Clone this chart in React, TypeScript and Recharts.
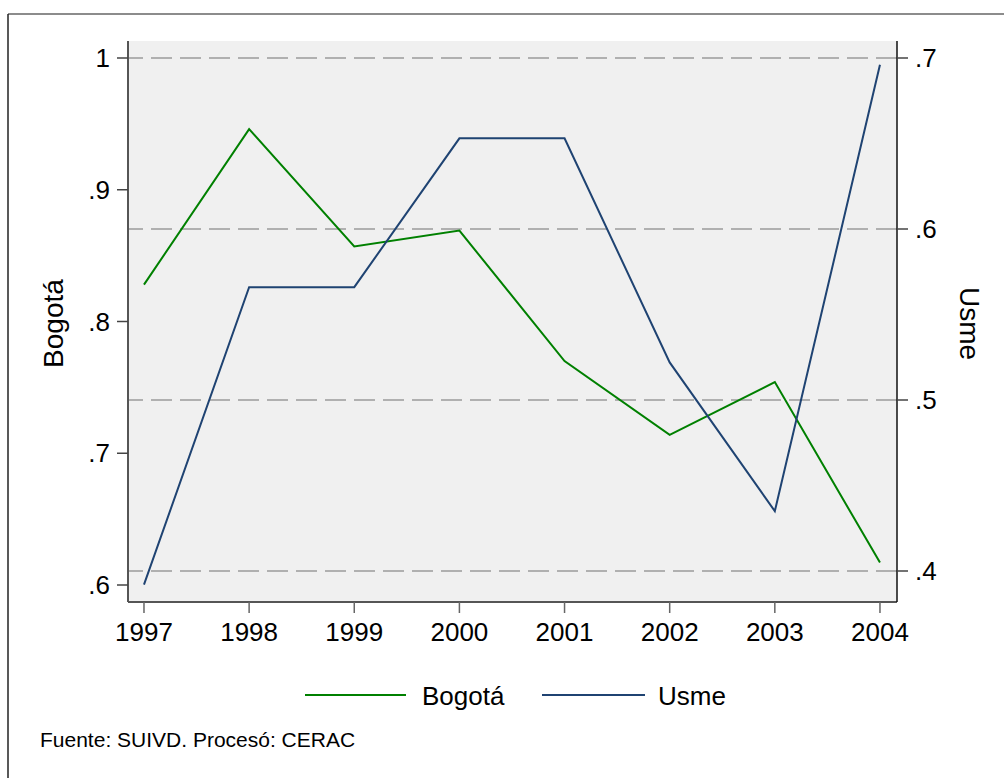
import React from "react";
import { LineChart, Line, XAxis, YAxis, CartesianGrid, ReferenceLine } from "recharts";

const years = [1997, 1998, 1999, 2000, 2001, 2002, 2003, 2004];
const bogota = [0.828, 0.946, 0.857, 0.869, 0.770, 0.714, 0.754, 0.617];
const usme = [0.392, 0.566, 0.566, 0.653, 0.653, 0.522, 0.435, 0.696];
const bogotaTicks = [0.6, 0.7, 0.8, 0.9, 1];
const usmeTicks = [0.4, 0.5, 0.6, 0.7];
const seriesNames = ["Bogotá", "Usme"];
const seriesColors = ["#008000", "#1f4372"];
const footer = "Fuente: SUIVD. Procesó: CERAC";

const data = years.map((y, i) => ({ year: y, bogota: bogota[i], usme: usme[i] }));

const FONT = "'Liberation Sans', Arial, sans-serif";

const fmt = (v: number) => {
  if (Math.abs(v - 1) < 1e-9) return "1";
  return "." + Math.round(v * 10);
};

const LeftTitle = (props: any) => {
  const vb = props.viewBox || { x: 0, y: 41, width: 128, height: 561 };
  const x = vb.x + 63;
  const y = vb.y + vb.height / 2 + 2;
  return (
    <text x={x} y={y} transform={`rotate(-90, ${x}, ${y})`} textAnchor="middle" fontFamily={FONT} fontSize={28} fill="#000">
      {seriesNames[0]}
    </text>
  );
};

const RightTitle = (props: any) => {
  const vb = props.viewBox || { x: 897, y: 41, width: 107, height: 561 };
  const x = vb.x + 63;
  const y = vb.y + vb.height / 2 + 2;
  return (
    <text x={x} y={y} transform={`rotate(90, ${x}, ${y})`} textAnchor="middle" fontFamily={FONT} fontSize={28} fill="#000">
      {seriesNames[1]}
    </text>
  );
};

export default function App() {
  return (
    <div style={{ position: "absolute", left: 0, top: 0, width: 1004, height: 778, background: "#fff" }}>
      <LineChart
        width={1004}
        height={778}
        data={data}
        margin={{ top: 41, right: 0, left: 0, bottom: 126 }}
      >
        <CartesianGrid fill="#f0f0f0" horizontal={false} vertical={false} stroke="none" yAxisId="right" />
        <XAxis
          dataKey="year"
          type="number"
          domain={[1996.848, 2004.162]}
          ticks={years}
          allowDataOverflow
          height={50}
          tickSize={11}
          tickMargin={10}
          tick={{ fill: "#000", fontSize: 26, fontFamily: FONT }}
          tickLine={{ stroke: "#666", strokeWidth: 1.5 }}
          axisLine={{ stroke: "#555", strokeWidth: 2 }}
          interval={0}
        />
        <YAxis
          yAxisId="left"
          orientation="left"
          width={128}
          domain={[0.5871, 1.0129]}
          ticks={bogotaTicks}
          allowDataOverflow
          tickFormatter={fmt}
          tickSize={11}
          tickMargin={7}
          tick={{ fill: "#000", fontSize: 26, fontFamily: FONT }}
          tickLine={{ stroke: "#444", strokeWidth: 1.5 }}
          axisLine={{ stroke: "#555", strokeWidth: 2 }}
          label={<LeftTitle />}
        />
        <YAxis
          yAxisId="right"
          orientation="right"
          width={107}
          domain={[0.38187, 0.70994]}
          ticks={usmeTicks}
          allowDataOverflow
          tickFormatter={fmt}
          tickSize={11}
          tickMargin={7}
          tick={{ fill: "#000", fontSize: 26, fontFamily: FONT }}
          tickLine={{ stroke: "#444", strokeWidth: 1.5 }}
          axisLine={{ stroke: "#111", strokeWidth: 1.5 }}
          label={<RightTitle />}
        />
        {usmeTicks.map((t) => (
          <ReferenceLine key={t} yAxisId="right" y={t} stroke="#9a9a9a" strokeWidth={1.5} strokeDasharray="21 8" />
        ))}
        <Line yAxisId="left" type="linear" dataKey="bogota" name={seriesNames[0]} stroke={seriesColors[0]} strokeWidth={2} dot={false} isAnimationActive={false} />
        <Line yAxisId="right" type="linear" dataKey="usme" name={seriesNames[1]} stroke={seriesColors[1]} strokeWidth={2} dot={false} isAnimationActive={false} />
      </LineChart>
      <svg width={1004} height={778} style={{ position: "absolute", left: 0, top: 0, pointerEvents: "none" }}>
        <line x1={8} y1={14} x2={1004} y2={14} stroke="#666" strokeWidth={1.5} />
        <line x1={8} y1={14} x2={8} y2={778} stroke="#222" strokeWidth={1.5} />
        <line x1={305} y1={695} x2={406} y2={695} stroke={seriesColors[0]} strokeWidth={2} />
        <text x={422} y={705} fontFamily={FONT} fontSize={26} fill="#000">{seriesNames[0]}</text>
        <line x1={542} y1={695} x2={645} y2={695} stroke={seriesColors[1]} strokeWidth={2} />
        <text x={658} y={705} fontFamily={FONT} fontSize={26} fill="#000">{seriesNames[1]}</text>
        <text x={40} y={747} fontFamily={FONT} fontSize={21} fill="#000">{footer}</text>
      </svg>
    </div>
  );
}
